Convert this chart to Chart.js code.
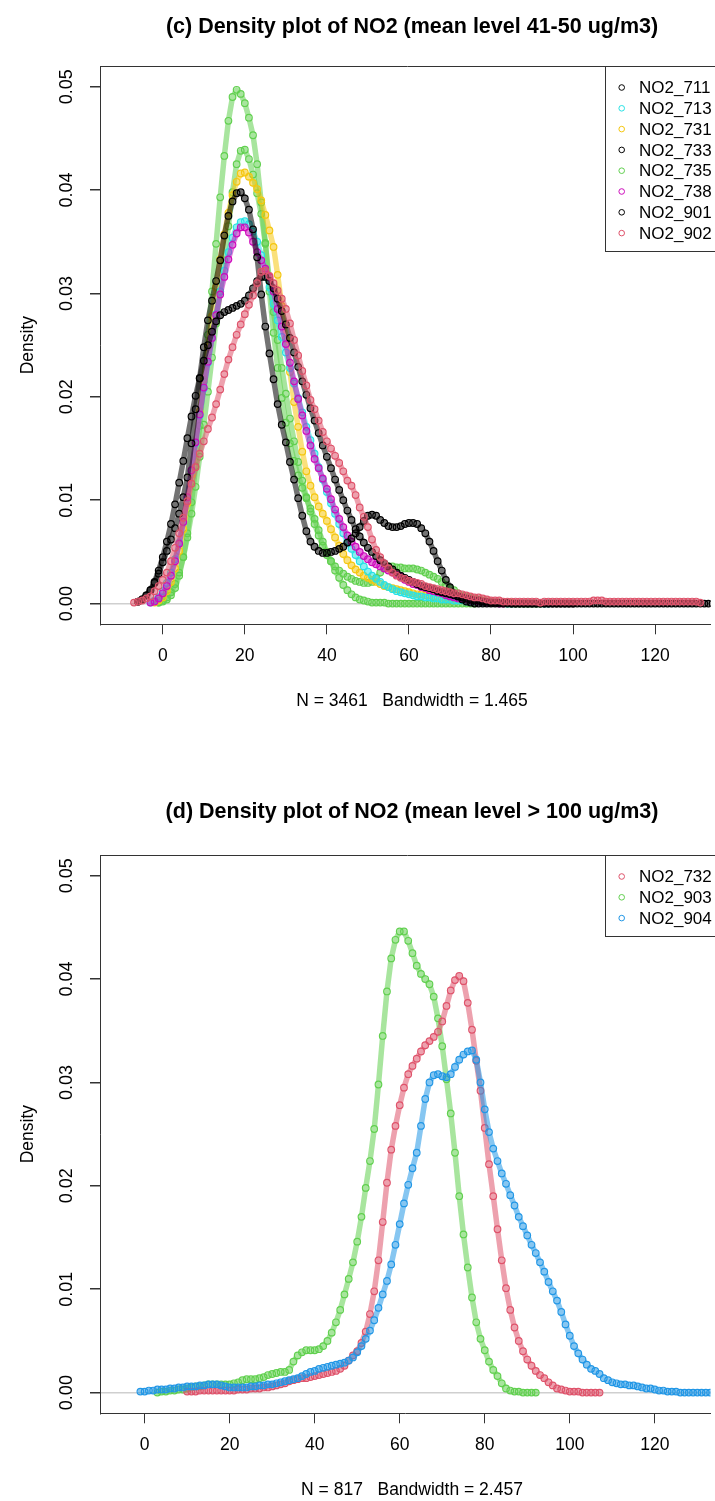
<!DOCTYPE html>
<html><head><meta charset="utf-8">
<script src="https://cdn.jsdelivr.net/npm/chart.js@4.4.0/dist/chart.umd.min.js"></script>
<style>
html,body{margin:0;padding:0;background:#fff;overflow:hidden;}
canvas{display:block;}
</style>
</head><body>
<canvas id="c1" width="715" height="750"></canvas>
<canvas id="c2" width="715" height="751"></canvas>
<script>
// ---------- shared ticks ----------
const xTicks = [0, 20, 40, 60, 80, 100, 120];
const yTicks = [0, 0.01, 0.02, 0.03, 0.04, 0.05];
const yTickLabels = ['0.00', '0.01', '0.02', '0.03', '0.04', '0.05'];

// ---------- chart (c) ----------
const topTitle = '(c) Density plot of NO2 (mean level 41-50 ug/m3)';
const topXLabel = 'N = 3461   Bandwidth = 1.465';
const topNames = ['NO2_711', 'NO2_713', 'NO2_731', 'NO2_733', 'NO2_735', 'NO2_738', 'NO2_901', 'NO2_902'];
const topLegendColors = ['#000000', '#28E2E5', '#F5C710', '#000000', '#61D04F', '#CD0BBC', '#000000', '#DF536B'];
const topPlotColors = ['#000000', '#28E2E5', '#F5C710', '#000000', '#61D04F', '#CD0BBC', '#61D04F', '#DF536B'];
const topDrawOrder = [2, 5, 6, 3, 8, 4, 7, 1];
const topX = [-7,-6,-5,-4,-3,-2,-1,
0,1,2,3,4,5,6,7,8,9,
10,11,12,13,14,15,16,17,18,19,
20,21,22,23,24,25,26,27,28,29,
30,31,32,33,34,35,36,37,38,39,
40,41,42,43,44,45,46,47,48,49,
50,51,52,53,54,55,56,57,58,59,
60,61,62,63,64,65,66,67,68,69,
70,71,72,73,74,75,76,77,78,79,
80,81,82,83,84,85,86,87,88,89,
90,91,92,93,94,95,96,97,98,99,
100,101,102,103,104,105,106,107,108,109,
110,111,112,113,114,115,116,117,118,119,
120,121,122,123,124,125,126,127,128,129,
130,131,132,133,134,135];
const s711 = [null,0.0002,0.0004,0.0008,0.0013,0.002,0.0029,
0.004,0.0051,0.0062,0.0073,0.0087,0.0103,0.0122,0.0155,0.0188,0.0218,
0.0248,0.0274,0.0293,0.0312,0.0332,0.0356,0.0375,0.0389,0.0397,0.0398,
0.0392,0.0381,0.0362,0.0335,0.0299,0.0268,0.0242,0.0217,0.0193,0.0173,
0.0156,0.0137,0.012,0.0102,0.0085,0.007,0.006,0.0055,0.0051,0.0049,
0.0049,0.005,0.0051,0.0053,0.0055,0.0059,0.0063,0.0068,0.0074,0.008,
0.0085,0.0086,0.0085,0.0081,0.0078,0.0075,0.0074,0.0074,0.0075,0.0077,
0.0078,0.0078,0.0077,0.0073,0.0068,0.006,0.0051,0.0041,0.0032,0.0023,
0.0016,0.001,0.0007,0.0004,0.0002,0.0001,0,0,0,0,
0,0,0,0,0,0,0,0,0,0,
0,0,0,0,0,0,0,0,0,0,
0,0,0,0,0,0,0,0,0,0,
0,0,0,0,0,0,0,0,0,0,
0,0,0,0,0,0,0,0,0,0,
0,0,0,0,0,0];
const s713 = [null,null,null,null,0.0001,0.0003,0.0006,
0.0012,0.002,0.003,0.0043,0.0059,0.0079,0.0102,0.0128,0.0155,0.0182,
0.0208,0.0233,0.0257,0.028,0.0302,0.0322,0.034,0.0354,0.0364,0.0369,
0.037,0.0367,0.036,0.035,0.0337,0.0322,0.0306,0.029,0.0274,0.0258,
0.0243,0.0228,0.0213,0.0199,0.0185,0.0171,0.0158,0.0145,0.0132,0.012,
0.0108,0.0097,0.0087,0.0077,0.0068,0.006,0.0053,0.0047,0.0041,0.0036,
0.0031,0.0027,0.0024,0.0021,0.0018,0.0016,0.0014,0.0012,0.0011,0.001,
0.0009,0.0008,0.0007,0.0007,0.0006,0.0006,0.0005,0.0005,0.0004,0.0004,
0.0004,0.0003,0.0003,0.0003,0.0002,0.0002,0.0002,0.0002,0.0001,0.0001,
0.0001,0.0001,0.0001,0.0001,0,0,0,0,0,0,
0,0,0,0,0];
const s731 = [null,null,null,null,null,0.0001,0.0003,
0.0006,0.0012,0.0021,0.0034,0.0051,0.0072,0.0097,0.0125,0.0155,0.0186,
0.0217,0.0248,0.0278,0.0306,0.0333,0.0357,0.0378,0.0395,0.0408,0.0416,
0.0417,0.0413,0.0407,0.0401,0.039,0.0376,0.0361,0.0345,0.0318,0.0288,
0.0256,0.0224,0.0195,0.0171,0.0147,0.0128,0.0114,0.0103,0.0094,0.0087,
0.008,0.0072,0.0064,0.0056,0.0048,0.0042,0.0037,0.0033,0.003,0.0027,
0.0025,0.0023,0.0021,0.0019,0.0017,0.0016,0.0015,0.0014,0.0013,0.0012,
0.0011,0.001,0.0009,0.0009,0.0008,0.0008,0.0007,0.0006,0.0006,0.0005,
0.0005,0.0004,0.0004,0.0003,0.0003,0.0003,0.0002,0.0002,0.0002,0.0002,
0.0001,0.0001,0.0001,0.0001,0.0001,0.0001,0,0,0,0,
0,0,0];
const s733 = [null,0.0002,0.0004,0.0008,0.0013,0.0021,0.0032,
0.0045,0.006,0.0077,0.0096,0.0117,0.0138,0.016,0.0181,0.0201,0.0218,
0.0235,0.025,0.0263,0.0273,0.0279,0.0282,0.0284,0.0286,0.0288,0.029,
0.0293,0.0298,0.0305,0.0312,0.0316,0.0316,0.0312,0.0305,0.0295,0.0283,
0.027,0.0257,0.0243,0.0229,0.0215,0.0202,0.0189,0.0177,0.0165,0.0153,
0.0142,0.0131,0.012,0.011,0.01,0.009,0.0081,0.0072,0.0065,0.0059,
0.0054,0.005,0.0046,0.0042,0.0039,0.0036,0.0033,0.003,0.0027,0.0025,
0.0023,0.0021,0.0019,0.0017,0.0016,0.0015,0.0014,0.0012,0.0011,0.001,
0.0009,0.0008,0.0007,0.0006,0.0005,0.0004,0.0003,0.0003,0.0002,0.0002,
0.0001,0.0001,0.0001,0.0001,0.0001,0,0,0,0,0,
0,0,0,0,0,0,0,0,0,0,
0];
const s735 = [null,null,null,null,null,null,0.0001,
0.0002,0.0004,0.0008,0.0015,0.0027,0.0045,0.0068,0.0098,0.0133,0.0172,
0.0215,0.026,0.0302,0.0348,0.0393,0.0433,0.0467,0.049,0.0497,0.0493,
0.0484,0.047,0.0453,0.0425,0.0388,0.0349,0.0302,0.0262,0.0228,0.0199,
0.0175,0.0155,0.0138,0.0124,0.0112,0.0102,0.0092,0.0082,0.0071,0.006,
0.005,0.0041,0.0032,0.0025,0.0018,0.0013,0.0009,0.0006,0.0004,0.0003,
0.0002,0.0001,0.0001,0.0001,0.0001,0,0,0,0,0,
0,0,0,0,0,0,0,0,0,0,
0,0,0,0,0,0,0];
const s738 = [null,null,null,null,0.0001,0.0002,0.0005,
0.001,0.0017,0.0027,0.0041,0.0058,0.0079,0.0103,0.0129,0.0156,0.0183,
0.0209,0.0234,0.0257,0.0279,0.0299,0.0316,0.0333,0.0347,0.0358,0.0364,
0.0364,0.0359,0.035,0.034,0.0332,0.0324,0.0316,0.0302,0.0285,0.0268,
0.0251,0.0233,0.0215,0.0198,0.0182,0.0167,0.0153,0.014,0.0131,0.0121,
0.0111,0.0101,0.0091,0.0082,0.0074,0.0066,0.006,0.0055,0.005,0.0046,
0.0043,0.004,0.0038,0.0036,0.0034,0.0032,0.003,0.0028,0.0026,0.0023,
0.0021,0.0019,0.0018,0.0016,0.0015,0.0013,0.0012,0.0011,0.001,0.0008,
0.0007,0.0006,0.0005,0.0005,0.0004,0.0003,0.0003,0.0002,0.0002,0.0001,
0.0001,0.0001,0,0];
const s901 = [null,null,null,null,null,null,0.0001,
0.0003,0.0006,0.0011,0.0019,0.003,0.0045,0.0064,0.0087,0.0113,0.0142,
0.0173,0.0205,0.0238,0.0271,0.0302,0.0332,0.0365,0.0398,0.0425,0.0438,
0.0439,0.043,0.0415,0.0397,0.0377,0.0348,0.0312,0.0282,0.0255,0.0228,
0.0203,0.0179,0.0157,0.0137,0.0119,0.0103,0.0089,0.0077,0.0066,0.0056,
0.0047,0.0041,0.0036,0.0032,0.0029,0.0026,0.0024,0.0022,0.0021,0.002,
0.002,0.0021,0.0025,0.003,0.0034,0.0036,0.0036,0.0035,0.0035,0.0034,
0.0034,0.0034,0.0033,0.0032,0.003,0.0028,0.0026,0.0024,0.0021,0.0018,
0.0015,0.0013,0.001,0.0008,0.0007,0.0006,0.0005,0.0004,0.0003,0.0002,
0.0002,0.0001,0.0001,0,0,0];
const s902 = [0.0001,0.0002,0.0003,0.0005,0.0007,0.0012,0.0017,
0.0023,0.003,0.0041,0.0054,0.0068,0.0083,0.0099,0.0116,0.0132,0.0145,
0.0157,0.0169,0.018,0.0193,0.0207,0.0222,0.0236,0.0248,0.026,0.027,
0.028,0.0289,0.0298,0.031,0.0321,0.0322,0.0317,0.031,0.0303,0.0295,
0.0285,0.0271,0.0255,0.024,0.0225,0.0211,0.0197,0.0188,0.0177,0.0166,
0.0157,0.015,0.0143,0.0136,0.0128,0.0119,0.0114,0.0105,0.0093,0.0084,
0.0074,0.0062,0.0052,0.0045,0.0039,0.0034,0.003,0.0027,0.0025,0.0024,
0.0022,0.0021,0.002,0.0019,0.0017,0.0016,0.0015,0.0014,0.0013,0.0012,
0.0011,0.001,0.001,0.0009,0.0008,0.0007,0.0006,0.0006,0.0005,0.0004,
0.0003,0.0003,0.0003,0.0002,0.0002,0.0002,0.0002,0.0002,0.0002,0.0002,
0.0002,0.0002,0.0001,0.0002,0.0002,0.0002,0.0002,0.0002,0.0002,0.0002,
0.0002,0.0002,0.0002,0.0002,0.0002,0.0003,0.0003,0.0003,0.0002,0.0002,
0.0002,0.0002,0.0002,0.0002,0.0002,0.0002,0.0002,0.0002,0.0002,0.0002,
0.0002,0.0002,0.0002,0.0002,0.0002,0.0002,0.0002,0.0002,0.0002,0.0002,
0.0002,0.0001];
const topSeries = [s711, s713, s731, s733, s735, s738, s901, s902];

// ---------- chart (d) ----------
const botTitle = '(d) Density plot of NO2 (mean level > 100 ug/m3)';
const botXLabel = 'N = 817   Bandwidth = 2.457';
const botNames = ['NO2_732', 'NO2_903', 'NO2_904'];
const botLegendColors = ['#DF536B', '#61D04F', '#2297E6'];
const botPlotColors = ['#DF536B', '#61D04F', '#2297E6'];
const botDrawOrder = [2, 3, 1];
const botX = [-1,
0,1,2,3,4,5,6,7,8,9,
10,11,12,13,14,15,16,17,18,19,
20,21,22,23,24,25,26,27,28,29,
30,31,32,33,34,35,36,37,38,39,
40,41,42,43,44,45,46,47,48,49,
50,51,52,53,54,55,56,57,58,59,
60,61,62,63,64,65,66,67,68,69,
70,71,72,73,74,75,76,77,78,79,
80,81,82,83,84,85,86,87,88,89,
90,91,92,93,94,95,96,97,98,99,
100,101,102,103,104,105,106,107,108,109,
110,111,112,113,114,115,116,117,118,119,
120,121,122,123,124,125,126,127,128,129,
130,131,132,133,134,135];
const b732 = [null,
null,null,null,null,null,null,null,null,null,null,
0.0001,0.0001,0.0001,0.0002,0.0002,0.0002,0.0002,0.0002,0.0002,0.0002,
0.0002,0.0002,0.0003,0.0003,0.0003,0.0004,0.0004,0.0004,0.0005,0.0005,
0.0006,0.0007,0.0008,0.0009,0.0011,0.0012,0.0013,0.0014,0.0014,0.0015,
0.0016,0.0017,0.0018,0.0019,0.002,0.0021,0.0023,0.0026,0.0031,0.0036,
0.004,0.0048,0.0059,0.0076,0.0098,0.0128,0.0165,0.0203,0.0235,0.0258,
0.0278,0.0295,0.0308,0.0316,0.0323,0.033,0.0336,0.034,0.0344,0.0349,
0.0359,0.0374,0.0389,0.0399,0.0403,0.0398,0.0377,0.0351,0.0321,0.0292,
0.0256,0.0221,0.019,0.0158,0.0128,0.0101,0.008,0.0063,0.005,0.004,
0.0032,0.0026,0.0021,0.0017,0.0014,0.001,0.0007,0.0004,0.0003,0.0002,
0.0001,0.0001,0.0001,0,0,0,0,0];
const b903 = [null,
null,null,null,0,0.0001,0.0001,0.0002,0.0002,0.0003,0.0003,
0.0004,0.0005,0.0006,0.0006,0.0007,0.0008,0.0008,0.0008,0.0008,0.0008,
0.0008,0.0009,0.001,0.0012,0.0013,0.0013,0.0013,0.0014,0.0015,0.0017,
0.0018,0.0019,0.002,0.002,0.0022,0.003,0.0036,0.0039,0.0041,0.0041,
0.0041,0.0042,0.0045,0.005,0.0058,0.0068,0.008,0.0095,0.011,0.0126,
0.0146,0.017,0.0198,0.0224,0.0255,0.0298,0.0345,0.0388,0.042,0.0438,
0.0446,0.0446,0.0437,0.0425,0.0413,0.0405,0.04,0.0395,0.0383,0.0362,
0.0335,0.0303,0.027,0.0232,0.019,0.0153,0.0121,0.0092,0.0068,0.0052,
0.0041,0.003,0.0022,0.0016,0.0009,0.0004,0.0002,0.0001,0.0001,0,
0,0,0];
const b904 = [0.0001,
0.0001,0.0002,0.0002,0.0003,0.0003,0.0003,0.0004,0.0004,0.0005,0.0005,
0.0006,0.0006,0.0006,0.0007,0.0007,0.0008,0.0008,0.0008,0.0007,0.0006,
0.0005,0.0005,0.0005,0.0005,0.0005,0.0006,0.0006,0.0007,0.0007,0.0008,
0.0008,0.0009,0.001,0.0011,0.0012,0.0013,0.0014,0.0016,0.0018,0.002,
0.0021,0.0023,0.0024,0.0025,0.0026,0.0027,0.0028,0.0029,0.0031,0.0034,
0.0039,0.0045,0.0052,0.006,0.007,0.0082,0.0095,0.0108,0.0124,0.0143,
0.0163,0.0183,0.0201,0.0217,0.0232,0.0258,0.0284,0.03,0.0307,0.0308,
0.0306,0.0305,0.0308,0.0315,0.0322,0.0327,0.033,0.0331,0.0322,0.03,
0.0274,0.0252,0.0236,0.0224,0.0212,0.0202,0.0191,0.0181,0.017,0.0161,
0.0152,0.0143,0.0135,0.0126,0.0117,0.0107,0.0098,0.0089,0.0078,0.0066,
0.0055,0.0045,0.0038,0.0032,0.0027,0.0023,0.0021,0.0018,0.0014,0.0012,
0.001,0.0009,0.0008,0.0008,0.0007,0.0007,0.0006,0.0005,0.0004,0.0004,
0.0003,0.0002,0.0002,0.0001,0.0001,0.0001,0,0,0,0,
0,0,0,0,0,0];
const botSeries = [b732, b903, b904];

// ---------- drawing ----------
const FONT = '"Liberation Sans", Arial, Helvetica, sans-serif';
function withAlpha(hex, a) {
  const n = parseInt(hex.slice(1), 16);
  return 'rgba(' + ((n >> 16) & 255) + ',' + ((n >> 8) & 255) + ',' + (n & 255) + ',' + a + ')';
}

function decorPlugin(cfg) {
  return {
    id: 'decor',
    afterDraw(chart) {
      const ctx = chart.ctx, ca = chart.chartArea, ys = chart.scales.y;
      ctx.save();
      ctx.strokeStyle = '#333'; ctx.lineWidth = 1;
      ctx.beginPath(); ctx.moveTo(ca.left, Math.round(ca.top) + 0.5); ctx.lineTo(chart.width, Math.round(ca.top) + 0.5); ctx.stroke();
      ctx.fillStyle = '#000';
      ctx.textAlign = 'center'; ctx.textBaseline = 'middle';
      ctx.font = 'bold 21.5px ' + FONT;
      ctx.fillText(cfg.title, cfg.centerX, cfg.titleY);
      ctx.font = '17.5px ' + FONT;
      ctx.fillText(cfg.xLabel, cfg.centerX, cfg.xLabelY);
      ctx.font = '18px ' + FONT;
      yTicks.forEach((v, i) => {
        const py = ys.getPixelForValue(v);
        ctx.save(); ctx.translate(67, py); ctx.rotate(-Math.PI / 2);
        ctx.fillText(yTickLabels[i], 0, 0); ctx.restore();
      });
      ctx.font = '17.5px ' + FONT;
      ctx.save(); ctx.translate(28, (ca.top + ca.bottom) / 2); ctx.rotate(-Math.PI / 2);
      ctx.fillText('Density', 0, 0); ctx.restore();
      const n = cfg.names.length, step = 20.8;
      const bx = 605.5, by = Math.round(ca.top) + 0.5, bh = 18.6 + n * step;
      ctx.fillStyle = '#fff';
      ctx.fillRect(bx, by, chart.width - bx + 5, bh);
      ctx.strokeStyle = '#333';
      ctx.strokeRect(bx, by, chart.width - bx + 5, bh);
      ctx.textAlign = 'left';
      ctx.font = '17px ' + FONT;
      cfg.names.forEach((nm, i) => {
        const cy = by + 21 + i * step;
        ctx.beginPath(); ctx.strokeStyle = cfg.legendColors[i]; ctx.lineWidth = 1;
        ctx.arc(621.7, cy, 2.8, 0, Math.PI * 2); ctx.stroke();
        ctx.fillStyle = '#000';
        ctx.fillText(nm, 639, cy + 1);
      });
      ctx.restore();
    }
  };
}

function makeChart(id, cfg) {
  const datasets = cfg.series.map((vals, k) => ({
    label: cfg.names[k],
    data: cfg.xs.map((x, i) => ({ x: x, y: vals[i] })).filter(p => p.y !== null && p.y !== undefined),
    showLine: true,
    borderColor: withAlpha(cfg.plotColors[k], 0.55),
    borderWidth: 5.5,
    borderJoinStyle: 'round',
    borderCapStyle: 'round',
    tension: 0,
    pointRadius: 3.3,
    pointHoverRadius: 3.3,
    pointBorderWidth: 1.2,
    pointBorderColor: cfg.plotColors[k],
    pointBackgroundColor: 'rgba(0,0,0,0)',
    order: cfg.order[k]
  }));
  return new Chart(document.getElementById(id), {
    type: 'scatter',
    data: { datasets: datasets },
    options: {
      responsive: false, animation: false, events: [],
      layout: { padding: { top: cfg.plotTop, left: 0, right: 0, bottom: 0 } },
      plugins: { legend: { display: false }, tooltip: { enabled: false }, title: { display: false } },
      scales: {
        x: {
          type: 'linear', min: cfg.xMin, max: cfg.xMax,
          afterBuildTicks: s => { s.ticks = xTicks.map(v => ({ value: v })); },
          afterFit: s => { s.height = cfg.xAxisHeight; },
          grid: { drawOnChartArea: false, drawTicks: true, tickLength: 10, tickColor: '#333', tickWidth: 1 },
          border: { display: true, color: '#333', width: 1 },
          ticks: { color: '#000', font: { family: FONT, size: 17.5 }, padding: 11.5, maxRotation: 0, autoSkip: false }
        },
        y: {
          type: 'linear', min: -0.002, max: 0.052,
          afterBuildTicks: s => { s.ticks = yTicks.map(v => ({ value: v })); },
          afterFit: s => { s.width = 100; },
          grid: {
            drawOnChartArea: true, drawTicks: true, tickLength: 10, tickColor: '#333',
            color: c => (c.tick && c.tick.value === 0) ? '#cfcfcf' : 'rgba(0,0,0,0)', lineWidth: 1.5
          },
          border: { display: true, color: '#333', width: 1 },
          ticks: { display: false }
        }
      }
    },
    plugins: [decorPlugin(cfg)]
  });
}

makeChart('c1', {
  xs: topX, series: topSeries, names: topNames, plotColors: topPlotColors, legendColors: topLegendColors,
  order: topDrawOrder, title: topTitle, xLabel: topXLabel,
  plotTop: 66, xAxisHeight: 750 - 624.3, xMin: -15.3, xMax: 133.5,
  centerX: 412, titleY: 27, xLabelY: 701
});
makeChart('c2', {
  xs: botX, series: botSeries, names: botNames, plotColors: botPlotColors, legendColors: botLegendColors,
  order: botDrawOrder, title: botTitle, xLabel: botXLabel,
  plotTop: 105, xAxisHeight: 751 - 663.3, xMin: -10.5, xMax: 133.1,
  centerX: 412, titleY: 62, xLabelY: 740
});
</script>
</body></html>
